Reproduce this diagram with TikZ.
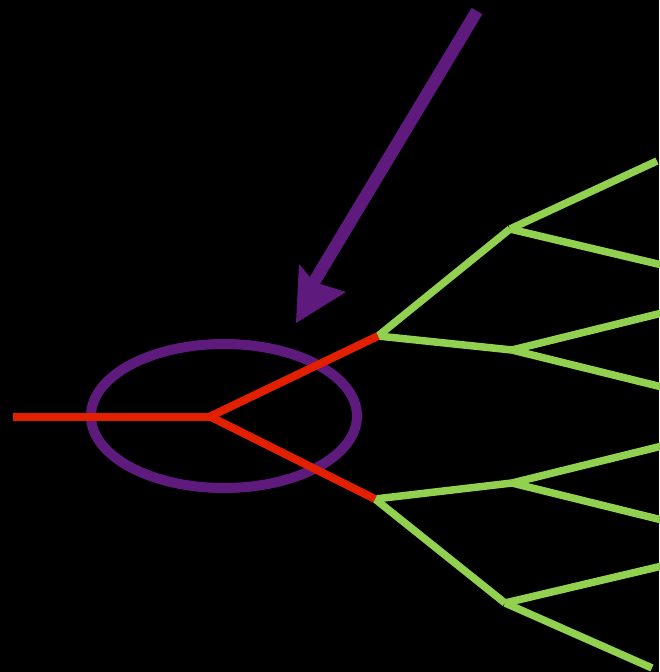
\documentclass[tikz,border=0pt]{standalone}
\usetikzlibrary{shapes.geometric}
\definecolor{myred}{RGB}{226,32,0}
\definecolor{mygreen}{RGB}{146,208,80}
\definecolor{mypurple}{RGB}{95,26,126}
\begin{document}
\begin{tikzpicture}[x=1pt,y=-1pt,
  redline/.style={draw=myred,line width=8pt},
  greenline/.style={draw=mygreen,line width=7.5pt},
  purp/.style={draw=mypurple,line width=10pt},
  shaft/.style={draw=mypurple,line width=12.5pt}]
\fill[black] (0,0) rectangle (659,672);
\useasboundingbox (0,0) rectangle (659,672);
% coordinates
\coordinate (s) at (13,416.5);
\coordinate (c) at (210,416.5);
\coordinate (u) at (378,336);
\coordinate (d) at (375,499);
\coordinate (u1) at (510,229);
\coordinate (u2) at (512,350);
\coordinate (d1) at (512,483);
\coordinate (d2) at (505,603);
\coordinate (e1) at (657,161);
\coordinate (e2) at (662,265);
\coordinate (e3) at (662,313);
\coordinate (e4) at (662,387);
\coordinate (e5) at (662,446);
\coordinate (e6) at (662,520);
\coordinate (e7) at (662,566);
\coordinate (e8) at (652,668);
% green
\draw[greenline] (u) -- (u1);
\draw[greenline] (u) -- (u2);
\draw[greenline] (d) -- (d1);
\draw[greenline] (d) -- (d2);
\draw[greenline] (u1) -- (e1);
\draw[greenline] (u1) -- (e2);
\draw[greenline] (u2) -- (e3);
\draw[greenline] (u2) -- (e4);
\draw[greenline] (d1) -- (e5);
\draw[greenline] (d1) -- (e6);
\draw[greenline] (d2) -- (e7);
\draw[greenline] (d2) -- (e8);
% ellipse
\node[purp,ellipse,inner sep=0pt,outer sep=0pt,minimum width=266pt,minimum height=144pt] (ell) at (224,416) {};
% red
\draw[redline] (s) -- (c);
\draw[redline] (c) -- (u);
\draw[redline] (c) -- (d);
% arrow
\coordinate (a0) at (477,11);
\coordinate (tip) at (296,323);
\coordinate (bl) at (299,264);
\coordinate (br) at (346,292);
\coordinate (notch) at (314,282);
\draw[shaft] (a0) -- (notch);
\fill[mypurple] (tip) -- (bl) -- (notch) -- (br) -- cycle;
\end{tikzpicture}
\end{document}
